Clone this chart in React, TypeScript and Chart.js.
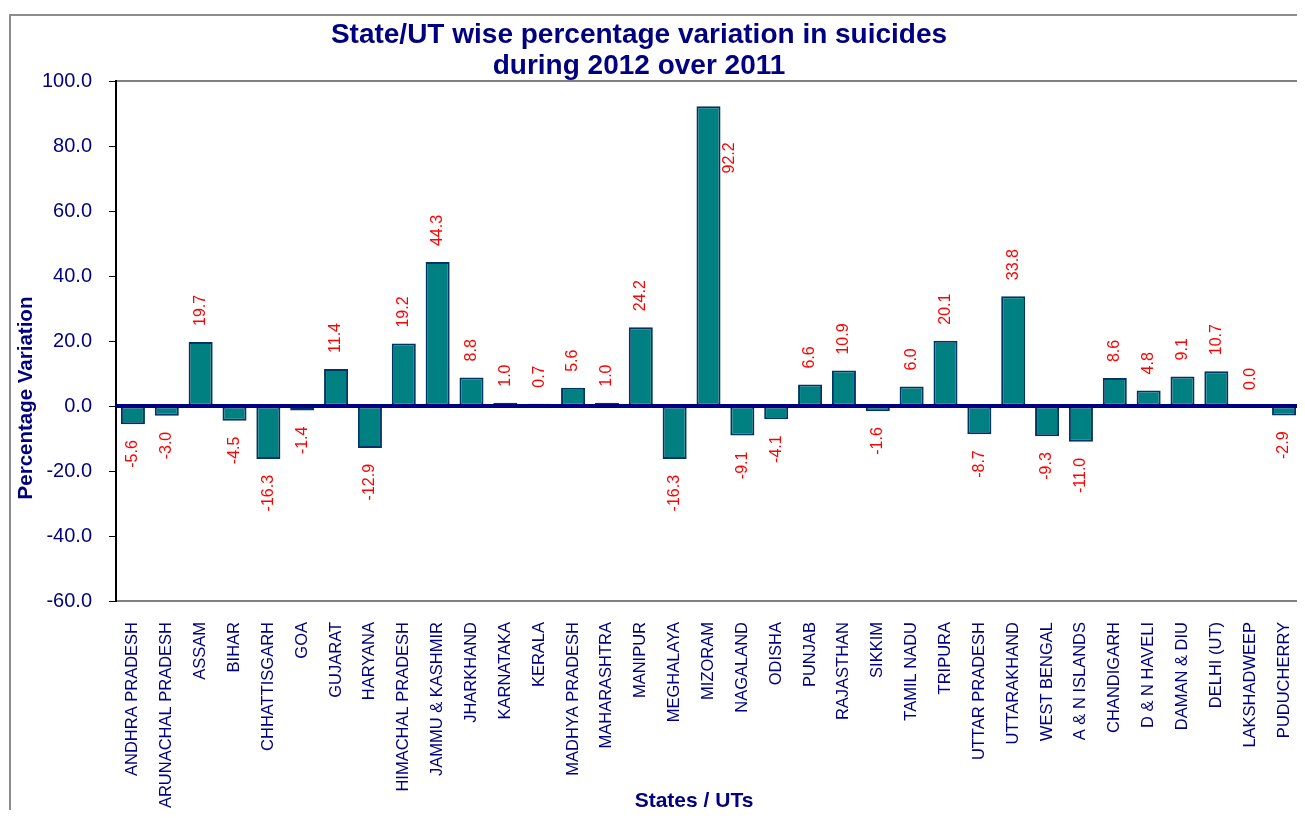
import React, { useEffect, useRef } from "react";
import { Chart, registerables } from "chart.js";

Chart.register(...registerables);

const categories: string[] = [
  "ANDHRA PRADESH", "ARUNACHAL PRADESH", "ASSAM", "BIHAR", "CHHATTISGARH", "GOA",
  "GUJARAT", "HARYANA", "HIMACHAL PRADESH", "JAMMU & KASHMIR", "JHARKHAND", "KARNATAKA",
  "KERALA", "MADHYA PRADESH", "MAHARASHTRA", "MANIPUR", "MEGHALAYA", "MIZORAM",
  "NAGALAND", "ODISHA", "PUNJAB", "RAJASTHAN", "SIKKIM", "TAMIL NADU", "TRIPURA",
  "UTTAR PRADESH", "UTTARAKHAND", "WEST BENGAL", "A & N ISLANDS", "CHANDIGARH",
  "D & N HAVELI", "DAMAN & DIU", "DELHI (UT)", "LAKSHADWEEP", "PUDUCHERRY",
];

const variation: number[] = [
  -5.6, -3.0, 19.7, -4.5, -16.3, -1.4,
  11.4, -12.9, 19.2, 44.3, 8.8, 1.0,
  0.7, 5.6, 1.0, 24.2, -16.3, 92.2,
  -9.1, -4.1, 6.6, 10.9, -1.6, 6.0, 20.1,
  -8.7, 33.8, -9.3, -11.0, 8.6,
  4.8, 9.1, 10.7, 0.0, -2.9,
];

const titleLines: string[] = ["State/UT wise percentage variation in suicides", "during 2012 over 2011"];
const yTitle = "Percentage Variation";
const xTitle = "States / UTs";
const yMin = -60;
const yMax = 100;
const yStep = 20;

const NAVY = "#000080";
const FONT = '"Liberation Sans", Arial, Helvetica, sans-serif';
const W = 1292;
const H = 794;

const decorPlugin = {
  id: "decor",
  beforeDraw(chart: any) {
    const { ctx, chartArea } = chart;
    ctx.save();
    ctx.strokeStyle = "#808080";
    ctx.lineWidth = 2;
    ctx.strokeRect(chartArea.left, chartArea.top, chartArea.right - chartArea.left, chartArea.bottom - chartArea.top);
    ctx.restore();
  },
  afterDatasetsDraw(chart: any) {
    const { ctx, chartArea } = chart;
    const yScale = chart.scales.y;
    const y0 = yScale.getPixelForValue(0);
    ctx.save();
    ctx.strokeStyle = NAVY;
    ctx.lineWidth = 4;
    ctx.beginPath();
    ctx.moveTo(chartArea.left, y0);
    ctx.lineTo(chartArea.right, y0);
    ctx.stroke();
    ctx.restore();

    const meta = chart.getDatasetMeta(0);
    ctx.save();
    ctx.font = `16px ${FONT}`;
    ctx.fillStyle = "#FF0000";
    ctx.textBaseline = "middle";
    meta.data.forEach((bar: any, i: number) => {
      const v = variation[i];
      const txt = v.toFixed(1);
      const w = ctx.measureText(txt).width;
      const p = bar.getProps(["x", "y", "width"], true);
      ctx.save();
      if (v >= 0) {
        let tx = p.x;
        let ty = p.y - 16;
        if (ty - w < chartArea.top) {
          tx = p.x + p.width / 2 + 9;
          ty = p.y + 36 + w;
        }
        ctx.translate(tx, ty);
        ctx.rotate(-Math.PI / 2);
        ctx.textAlign = "left";
      } else {
        ctx.translate(p.x, p.y + 16);
        ctx.rotate(-Math.PI / 2);
        ctx.textAlign = "right";
      }
      ctx.fillText(txt, 0, 0);
      ctx.restore();
    });
    ctx.restore();
  },
  afterDraw(chart: any) {
    const { ctx } = chart;
    ctx.save();
    ctx.fillStyle = NAVY;
    ctx.textAlign = "center";
    ctx.textBaseline = "middle";
    ctx.font = `bold 28px ${FONT}`;
    ctx.fillText(titleLines[0], 628, 19);
    ctx.fillText(titleLines[1], 628, 50);

    ctx.font = `bold 21px ${FONT}`;
    ctx.fillText(xTitle, 683, 785);

    ctx.font = `bold 20.5px ${FONT}`;
    ctx.translate(15, 382);
    ctx.rotate(-Math.PI / 2);
    ctx.fillText(yTitle, 0, 0);
    ctx.restore();
  },
};

export default function App() {
  const ref = useRef<HTMLCanvasElement | null>(null);

  useEffect(() => {
    if (!ref.current) return;
    const chart = new Chart(ref.current, {
      type: "bar",
      data: {
        labels: categories,
        datasets: [
          {
            data: variation,
            backgroundColor: "#008080",
            borderColor: "#003366",
            borderWidth: 2,
            borderSkipped: false,
            barPercentage: 0.71,
            categoryPercentage: 1,
          },
        ],
      },
      options: {
        animation: false,
        responsive: false,
        devicePixelRatio: 1,
        layout: { padding: { top: 65, right: 2, left: 0, bottom: 0 } },
        plugins: {
          legend: { display: false },
          title: { display: false },
          tooltip: { enabled: false },
        },
        scales: {
          x: {
            grid: { display: false, drawTicks: false },
            border: { display: false },
            ticks: {
              autoSkip: false,
              maxRotation: 90,
              minRotation: 90,
              padding: 21,
              color: NAVY,
              font: { family: FONT, size: 16.5 },
            },
            afterFit(scale: any) {
              scale.height = 209;
              scale.paddingLeft = 0;
              scale.paddingRight = 0;
            },
          },
          y: {
            min: yMin,
            max: yMax,
            grid: { drawOnChartArea: false, tickLength: 7, color: "#000000", lineWidth: 1 },
            border: { display: true, color: "#000000", width: 2 },
            ticks: {
              stepSize: yStep,
              padding: 17,
              color: NAVY,
              font: { family: FONT, size: 20 },
              callback: (v: any) => Number(v).toFixed(1),
            },
            afterFit(scale: any) {
              scale.width = 105;
            },
          },
        },
      },
      plugins: [decorPlugin],
    });
    return () => chart.destroy();
  }, []);

  return (
    <div style={{ paddingTop: 6 }}>
      <div
        style={{
          marginLeft: 1,
          borderTop: "2px solid #8c8c8c",
          borderLeft: "2px solid #8c8c8c",
          width: W,
          height: H,
        }}
      >
        <canvas ref={ref} width={W} height={H} style={{ display: "block" }} />
      </div>
    </div>
  );
}
